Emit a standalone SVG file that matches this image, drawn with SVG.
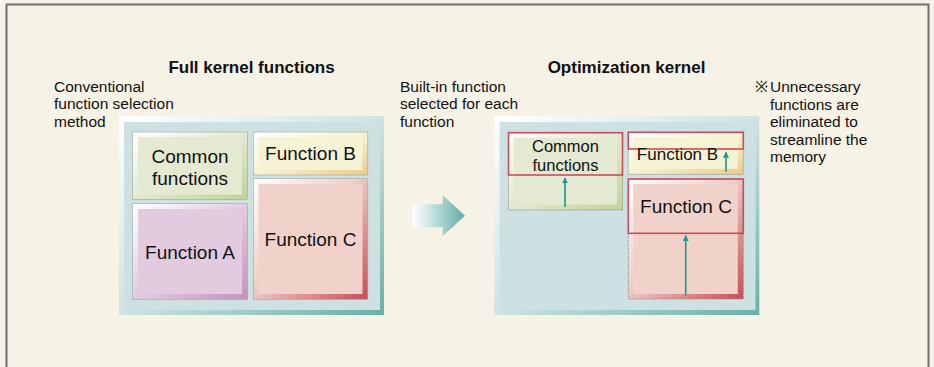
<svg xmlns="http://www.w3.org/2000/svg" width="934" height="367" viewBox="0 0 934 367">
<defs>
<linearGradient id="gTeal" x1="0" y1="0" x2="1" y2="1"><stop offset="0" stop-color="#ffffff"/><stop offset="0.5" stop-color="#cfe3e2"/><stop offset="1" stop-color="#68b0a8"/></linearGradient>
<linearGradient id="gGreen" x1="0" y1="0" x2="1" y2="1"><stop offset="0" stop-color="#ffffff"/><stop offset="0.5" stop-color="#e4e9d2"/><stop offset="1" stop-color="#bfd296"/></linearGradient>
<linearGradient id="gYellow" x1="0" y1="0" x2="1" y2="1"><stop offset="0" stop-color="#ffffff"/><stop offset="0.5" stop-color="#f6f2d4"/><stop offset="1" stop-color="#eacb8c"/></linearGradient>
<linearGradient id="gPurple" x1="0" y1="0" x2="1" y2="1"><stop offset="0" stop-color="#ffffff"/><stop offset="0.5" stop-color="#e2cbdf"/><stop offset="1" stop-color="#c294b8"/></linearGradient>
<linearGradient id="gRed" x1="0" y1="0" x2="1" y2="1"><stop offset="0" stop-color="#ffffff"/><stop offset="0.45" stop-color="#efcfc8"/><stop offset="1" stop-color="#c84c58"/></linearGradient>
<linearGradient id="gArrow" x1="0" y1="0" x2="1" y2="0"><stop offset="0" stop-color="#ffffff"/><stop offset="1" stop-color="#62ada5"/></linearGradient>
<marker id="ah" viewBox="0 0 10 10" refX="9" refY="5" markerWidth="6" markerHeight="6" markerUnits="userSpaceOnUse" orient="auto"><path d="M0,0 L10,5 L0,10 z" fill="#1f9690"/></marker>
</defs>
<style>
.lbl{font-family:"Liberation Sans",Arial,sans-serif;font-size:15.5px;fill:#111}
.ttl{font-family:"Liberation Sans",Arial,sans-serif;font-size:17px;font-weight:bold;fill:#111;text-anchor:middle}
.box{font-family:"Liberation Sans",Arial,sans-serif;font-size:19px;fill:#111;text-anchor:middle}
.big{fill:#cde1e2}
.dot{fill:none;stroke:#8a8a8a;stroke-width:1;stroke-dasharray:1 1}
.red{fill:none;stroke:#c94d5c;stroke-width:1.6}
.sm{stroke:#1f9690;stroke-width:1.6;fill:none}
</style>
<rect x="0" y="0" width="934" height="367" fill="#f7f2e6"/>
<path d="M6.5,367 V4.5 H928.5 V367" fill="none" stroke="#707070" stroke-width="2"/>

<text class="ttl" x="251.5" y="72.5">Full kernel functions</text>
<text class="ttl" x="626.5" y="72.5">Optimization kernel</text>

<g id="note-left">
<text class="lbl" x="54" y="91.5">Conventional</text>
<text class="lbl" x="54" y="109">function selection</text>
<text class="lbl" x="54" y="126.5">method</text>
</g>
<g id="note-mid">
<text class="lbl" x="400" y="91.5">Built-in function</text>
<text class="lbl" x="400" y="109">selected for each</text>
<text class="lbl" x="400" y="126.5">function</text>
</g>
<g id="note-right">
<text class="lbl" x="755" y="92">※</text>
<text class="lbl" x="770" y="92">Unnecessary</text>
<text class="lbl" x="770" y="109.5">functions are</text>
<text class="lbl" x="770" y="127">eliminated to</text>
<text class="lbl" x="770" y="144.5">streamline the</text>
<text class="lbl" x="770" y="162">memory</text>
</g>

<g id="full-kernel">
<rect x="119" y="116" width="265" height="199" fill="url(#gTeal)"/>
<rect class="big" x="124" y="122" width="256" height="188"/>
</g>
<g id="full-common">
<rect x="132.5" y="132" width="115" height="67.5" fill="url(#gGreen)" stroke="#9aa5a5" stroke-width="0.6"/>
<rect x="138" y="137" width="104" height="57.5" fill="#e4e9d2"/>
<text class="box" x="190" y="163.3">Common</text>
<text class="box" x="190" y="185.3">functions</text>
</g>
<g id="full-funcB">
<rect x="253.3" y="132" width="114.5" height="43" fill="url(#gYellow)" stroke="#9aa5a5" stroke-width="0.6"/>
<rect x="258.5" y="137" width="104" height="33" fill="#f6f2d4"/>
<text class="box" x="310.5" y="160">Function B</text>
</g>
<g id="full-funcA">
<rect x="132.5" y="203.7" width="115" height="95.6" fill="url(#gPurple)" stroke="#9aa5a5" stroke-width="0.6"/>
<rect x="138" y="209" width="104" height="85" fill="#e2cbdf"/>
<text class="box" x="190" y="259">Function A</text>
</g>
<g id="full-funcC">
<rect x="253.3" y="178.7" width="114.5" height="120.6" fill="url(#gRed)" stroke="#9aa5a5" stroke-width="0.6"/>
<rect x="258.5" y="184" width="104" height="110" fill="#f0d2ca"/>
<text class="box" x="310.5" y="246.3">Function C</text>
</g>

<g id="opt-kernel">
<rect x="494.3" y="116" width="265" height="199" fill="url(#gTeal)"/>
<rect class="big" x="499.5" y="122" width="256" height="188"/>
</g>
<g id="opt-common">
<rect x="508.5" y="132.7" width="114" height="77.3" fill="url(#gGreen)"/>
<rect x="513.5" y="137.7" width="103.5" height="67" fill="#e4e9d2"/>
<rect class="dot" x="508.5" y="132.7" width="114" height="77.3"/>
<rect class="red" x="508.5" y="132.7" width="114" height="42.3"/>
<text class="box" x="565.5" y="151.8" style="font-size:16.5px">Common</text>
<text class="box" x="565.5" y="170.6" style="font-size:16.5px">functions</text>
</g>
<g id="opt-funcB">
<rect x="628.3" y="132.3" width="115" height="42" fill="url(#gYellow)"/>
<rect x="633.3" y="137.3" width="104.5" height="31.5" fill="#f6f2d4"/>
<rect class="dot" x="628.3" y="132.3" width="115" height="42"/>
<rect class="red" x="628.3" y="132.3" width="115" height="16.7"/>
<text class="box" x="677.5" y="160" style="font-size:17px">Function B</text>
</g>
<g id="opt-funcC">
<rect x="628.3" y="179" width="115" height="120" fill="url(#gRed)"/>
<rect x="633.3" y="184" width="104.5" height="110" fill="#f0d2ca"/>
<rect class="dot" x="628.3" y="179" width="115" height="120"/>
<rect class="red" x="628.3" y="179" width="115" height="54.3"/>
<text class="box" x="686" y="212.7">Function C</text>
</g>

<g id="connectors">
<path d="M412.7,204.3 H442.7 V195 L465,215.7 L442.7,236 V227.3 H412.7 Z" fill="url(#gArrow)"/>
<line class="sm" x1="565" y1="207" x2="565" y2="178" marker-end="url(#ah)"/>
<line class="sm" x1="726" y1="171.7" x2="726" y2="152.3" marker-end="url(#ah)"/>
<line class="sm" x1="685.7" y1="295.7" x2="685.7" y2="235.7" marker-end="url(#ah)"/>
</g>
</svg>
